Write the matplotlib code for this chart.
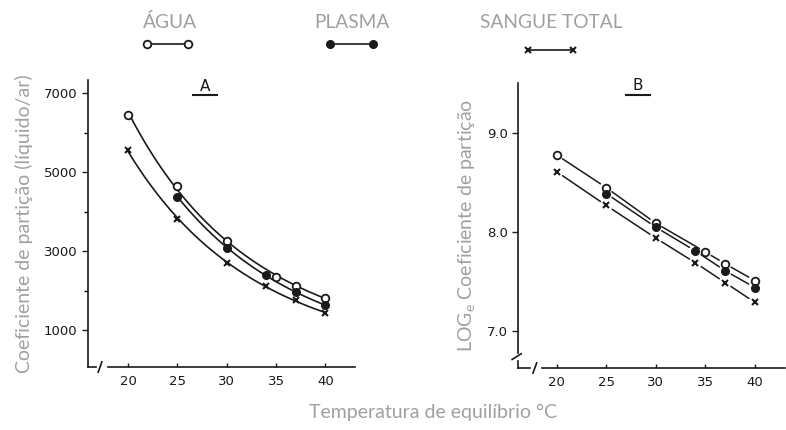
import numpy as np
import matplotlib
matplotlib.use("Agg")
import matplotlib.pyplot as plt
from matplotlib.lines import Line2D

# temperatures (°C) for each series
temps_agua = [20, 25, 30, 35, 37, 40]
temps_plasma = [25, 30, 34, 37, 40]
temps_sangue = [20, 25, 30, 34, 37, 40]

# partition coefficient (liquid/air)
agua_A = [6450, 4650, 3250, 2350, 2110, 1820]
plasma_A = [4380, 3080, 2390, 1950, 1630]
sangue_A = [5560, 3800, 2700, 2110, 1760, 1420]

# log_e of the partition coefficient
agua_B = [8.78, 8.45, 8.09, 7.80, 7.68, 7.51]
plasma_B = [8.39, 8.05, 7.81, 7.61, 7.44]
sangue_B = [8.61, 8.27, 7.94, 7.69, 7.49, 7.29]

xticks = [20, 25, 30, 35, 40]
yticks_A = [1000, 3000, 5000, 7000]
yticks_B = [7.0, 8.0, 9.0]

gray = '#a0a0a0'
ink = '#1a1a1a'
W, H = 786, 430

fig = plt.figure(figsize=(W / 100, H / 100), dpi=100)


def box(left, top, right, bottom):
    return [left / W, 1 - bottom / H, (right - left) / W, (bottom - top) / H]


styles = {
    'agua': dict(marker='o', mfc='white', mec=ink, ms=5.5, mew=1.3),
    'plasma': dict(marker='o', mfc=ink, mec=ink, ms=5.5, mew=1.0),
    'sangue': dict(marker='x', mfc=ink, mec=ink, ms=4, mew=1.5),
}


def tidy(ax):
    for s in ['top', 'right', 'bottom', 'left']:
        ax.spines[s].set_visible(False)
    ax.tick_params(axis='x', direction='in', length=3, width=1, colors=ink,
                   labelsize=9.5, pad=6)
    ax.tick_params(axis='y', direction='out', length=4, width=1, colors=ink,
                   labelsize=9.5)
    ax.set_xticks(xticks)


# ---- panel A ----
axA = fig.add_axes(box(88, 80, 355, 367))
axA.set_xlim(15.94, 43.0)
axA.set_ylim(63, 7330)
tidy(axA)
axA.set_yticks(yticks_A)
axA.set_yticks([2000, 4000, 6000], minor=True)
axA.tick_params(axis='y', which='minor', direction='out', length=3, width=1)

for t, v, key in [(temps_agua, agua_A, 'agua'), (temps_plasma, plasma_A, 'plasma'),
                  (temps_sangue, sangue_A, 'sangue')]:
    coef = np.polyfit(t, np.log(v), 2)
    xs = np.linspace(t[0], t[-1], 120)
    axA.plot(xs, np.exp(np.polyval(coef, xs)), color=ink, lw=1.2, zorder=2)
    axA.plot(t, v, ls='none', zorder=3, **styles[key])

# axes lines with break marks
tA = axA.transAxes
axA.add_line(Line2D([0, 0], [0, 1], transform=tA, color=ink, lw=1.2, clip_on=False))
axA.add_line(Line2D([0, 0.03], [0, 0], transform=tA, color=ink, lw=1.2, clip_on=False))
axA.add_line(Line2D([0.038, 0.052], [-0.018, 0.018], transform=tA, color=ink, lw=1.2, clip_on=False))
axA.add_line(Line2D([0.075, 1], [0, 0], transform=tA, color=ink, lw=1.2, clip_on=False))
axA.text(0.44, 0.978, 'A', transform=tA, ha='center', va='center', fontsize=11, color=ink)
axA.add_line(Line2D([0.395, 0.485], [0.948, 0.948], transform=tA, color=ink, lw=1.5, clip_on=False))
axA.set_ylabel('Coeficiente de partição (líquido/ar)', family='Lato', fontsize=14,
               color=gray, labelpad=8)

# ---- panel B ----
axB = fig.add_axes(box(518, 83, 785, 368))
axB.set_xlim(16.09, 43.05)
axB.set_ylim(6.626, 9.508)
tidy(axB)
axB.set_yticks(yticks_B)
axB.set_yticklabels(['%.1f' % v for v in yticks_B])

for t, v, key in [(temps_agua, agua_B, 'agua'), (temps_plasma, plasma_B, 'plasma'),
                  (temps_sangue, sangue_B, 'sangue')]:
    axB.plot(t, v, ls='none', zorder=3, **styles[key])
    for i in range(len(t) - 1):
        axB.annotate('', xy=(t[i + 1], v[i + 1]), xytext=(t[i], v[i]),
                     arrowprops=dict(arrowstyle='-', color=ink, lw=1.1,
                                     shrinkA=5, shrinkB=5))

tB = axB.transAxes
axB.add_line(Line2D([0, 0], [0.053, 1], transform=tB, color=ink, lw=1.2, clip_on=False))
axB.add_line(Line2D([-0.022, 0.012], [0.03, 0.05], transform=tB, color=ink, lw=1.2, clip_on=False))
axB.add_line(Line2D([0, 0], [0, 0.025], transform=tB, color=ink, lw=1.2, clip_on=False))
axB.add_line(Line2D([0, 0.045], [0, 0], transform=tB, color=ink, lw=1.2, clip_on=False))
axB.add_line(Line2D([0.056, 0.07], [-0.018, 0.018], transform=tB, color=ink, lw=1.2, clip_on=False))
axB.add_line(Line2D([0.09, 1], [0, 0], transform=tB, color=ink, lw=1.2, clip_on=False))
axB.text(0.45, 0.99, 'B', transform=tB, ha='center', va='center', fontsize=11, color=ink)
axB.add_line(Line2D([0.405, 0.495], [0.958, 0.958], transform=tB, color=ink, lw=1.5, clip_on=False))
axB.set_ylabel(r'LOG$_{\mathregular{e}}$ Coeficiente de partição', family='Lato',
               fontsize=14, color=gray, labelpad=6)

fig.text(433 / W, 1 - 412 / H, 'Temperatura de equilíbrio °C', family='Lato', fontsize=14,
         color=gray, ha='center', va='center')

# legend across the top
legend = [('ÁGUA', 170, 147, 188, 44, 'agua'),
          ('PLASMA', 352, 330, 373, 44, 'plasma'),
          ('SANGUE TOTAL', 551, 528, 573, 50, 'sangue')]
for label, cx, x0, x1, ly, key in legend:
    fig.text(cx / W, 1 - 22 / H, label, family='Lato', fontsize=13.75, color=gray,
             ha='center', va='center')
    fig.add_artist(Line2D([x0 / W, x1 / W], [1 - ly / H, 1 - ly / H], color=ink,
                          lw=1.2, **styles[key]))

fig.savefig('out.png', dpi=100)
